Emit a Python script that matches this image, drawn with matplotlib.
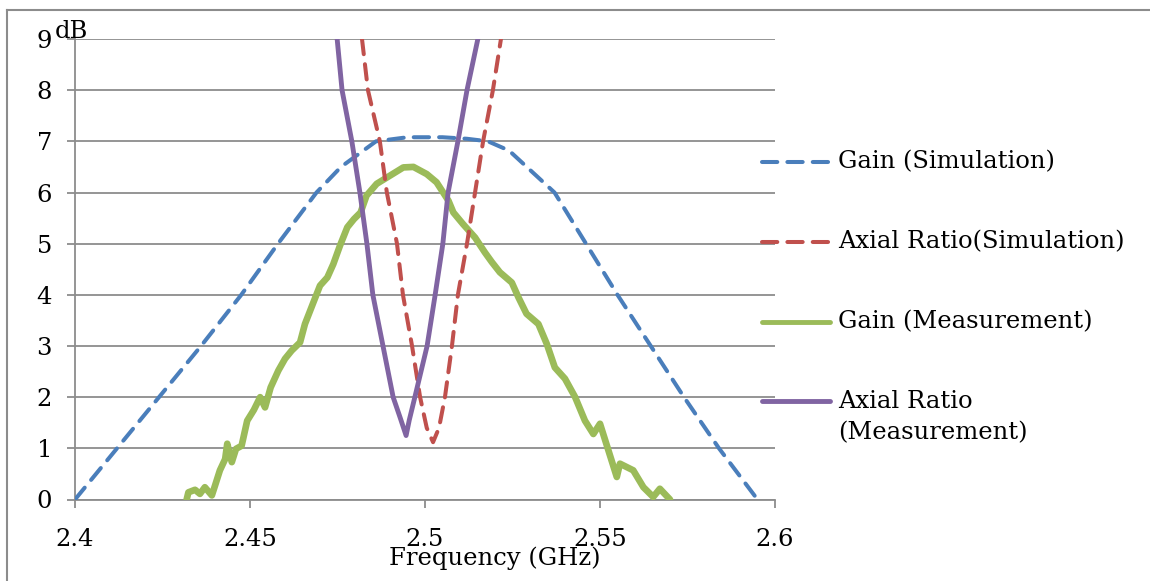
"""Gain and axial ratio vs frequency: simulation vs measurement."""

import matplotlib
matplotlib.use("Agg")
import matplotlib.pyplot as plt
from matplotlib.lines import Line2D

plt.rcParams['font.family'] = ['DejaVu Serif']

# Gain (Simulation)
gs_f = [2.4, 2.412, 2.424, 2.436, 2.4475, 2.458, 2.469, 2.476, 2.486, 2.495,
        2.505, 2.512, 2.518, 2.524, 2.537, 2.546, 2.555, 2.5645, 2.574, 2.584, 2.595]
gs_v = [0, 1, 2, 3, 4, 5, 6, 6.5, 7, 7.08,
        7.08, 7.05, 7.0, 6.82, 6, 5, 4, 3, 2, 1, 0]

# Axial Ratio (Simulation)
ars_f = [2.482, 2.4837, 2.4871, 2.4891, 2.492, 2.4937, 2.4963, 2.4986, 2.5005, 2.5023,
         2.504, 2.5057, 2.5077, 2.5094, 2.512, 2.5143, 2.5166, 2.5194, 2.5217]
ars_v = [9, 8, 7, 6, 5, 4, 3, 2, 1.4, 1.12,
         1.4, 2, 3, 4, 5, 6, 7, 8, 9]

# Gain (Measurement)
gm_f = [2.4319, 2.4324, 2.4343, 2.4357, 2.4371, 2.4391, 2.44, 2.4414, 2.4429, 2.4435,
        2.4448, 2.446, 2.4476, 2.4492, 2.4511, 2.4529, 2.4543, 2.4559, 2.4581, 2.46,
        2.4619, 2.4643, 2.4657, 2.4681, 2.47, 2.4721, 2.4738, 2.4757, 2.4778, 2.4797,
        2.4816, 2.4833, 2.4862, 2.49, 2.4938, 2.4967, 2.5005, 2.5033, 2.5067, 2.5081,
        2.5109, 2.5143, 2.5171, 2.5191, 2.5214, 2.5248, 2.5267, 2.529, 2.5324, 2.5348,
        2.5371, 2.54, 2.5429, 2.5457, 2.5481, 2.55, 2.5524, 2.5548, 2.5557, 2.5595,
        2.5624, 2.5652, 2.5671, 2.57]
gm_v = [0, 0.14, 0.19, 0.11, 0.24, 0.08, 0.27, 0.57, 0.79, 1.09,
        0.73, 0.99, 1.05, 1.54, 1.75, 2.0, 1.80, 2.19, 2.52, 2.75,
        2.91, 3.07, 3.43, 3.85, 4.18, 4.34, 4.6, 4.96, 5.32, 5.48,
        5.61, 5.94, 6.17, 6.33, 6.49, 6.5, 6.36, 6.2, 5.84, 5.61,
        5.38, 5.12, 4.83, 4.64, 4.44, 4.24, 3.95, 3.63, 3.43, 3.04,
        2.58, 2.36, 2.0, 1.54, 1.28, 1.48, 0.96, 0.44, 0.7, 0.57,
        0.24, 0.05, 0.21, 0]

# Axial Ratio (Measurement)
arm_f = [2.4749, 2.4763, 2.4791, 2.4814, 2.4834, 2.4851, 2.488, 2.4909, 2.4929, 2.4946,
         2.4955, 2.4971, 2.5006, 2.5029, 2.5051, 2.5066, 2.5094, 2.512, 2.5151]
arm_v = [9, 8, 7, 6, 5, 4, 3, 2, 1.6, 1.25,
         1.55, 2, 3, 4, 5, 6, 7, 8, 9]

xticks = [2.4, 2.45, 2.5, 2.55, 2.6]
xtick_labels = ["2.4", "2.45", "2.5", "2.55", "2.6"]

blue = '#4a7ebb'
red = '#c0504d'
green = '#9bbb59'
purple = '#8064a2'
gray = '#8c8c8c'
fs = 17.5
dash = (3.8, 2.5)

W, H = 1150, 581
fig = plt.figure(figsize=(W / 100, H / 100), dpi=100)
ax = fig.add_axes([75 / W, 1 - 499.5 / H, 700 / W, 460.5 / H])

ax.plot(gs_f, gs_v, color=blue, lw=2.9, dashes=dash, dash_capstyle='round', zorder=3)
ax.plot(gm_f, gm_v, color=green, lw=4.8, solid_capstyle='round', solid_joinstyle='round', zorder=4)
ax.plot(ars_f, ars_v, color=red, lw=2.9, dashes=dash, dash_capstyle='round', zorder=5)
ax.plot(arm_f, arm_v, color=purple, lw=3.5, solid_capstyle='round', solid_joinstyle='round', zorder=6)

ax.set_xlim(2.4, 2.6)
ax.set_ylim(0, 9)
ax.set_xticks(xticks)
ax.set_xticklabels(xtick_labels)
ax.set_yticks(range(10))
ax.yaxis.grid(True, color=gray, lw=1.3)
ax.set_axisbelow(True)
for s in ['top', 'right']:
    ax.spines[s].set_visible(False)
for s in ['left', 'bottom']:
    ax.spines[s].set_color(gray)
    ax.spines[s].set_linewidth(1.3)
ax.tick_params(axis='both', direction='out', length=5.5, width=1.3, color=gray,
               labelsize=fs, labelcolor='black')
ax.tick_params(axis='x', pad=15)
ax.tick_params(axis='y', pad=11)

fig.text(55 / W, 1 - 32 / H, 'dB', fontsize=fs, va='center', ha='left')
fig.text(495 / W, 1 - 558 / H, 'Frequency (GHz)', fontsize=fs, va='center', ha='center')

# legend
leg = [("Gain (Simulation)", blue, True, 162),
       ("Axial Ratio(Simulation)", red, True, 242),
       ("Gain (Measurement)", green, False, 322),
       ("Axial Ratio", purple, False, 401)]
for label, c, dashed, yy in leg:
    yf = 1 - yy / H
    if dashed:
        ln = Line2D([762 / W, 830 / W], [yf, yf], color=c, lw=2.9, dashes=dash,
                    dash_capstyle='round', transform=fig.transFigure)
    else:
        ln = Line2D([762 / W, 830 / W], [yf, yf], color=c, lw=3.5,
                    solid_capstyle='round', transform=fig.transFigure)
    fig.add_artist(ln)
    fig.text(838 / W, yf, label, fontsize=fs, va='center', ha='left')
fig.text(838 / W, 1 - 433 / H, "(Measurement)", fontsize=fs, va='center', ha='left')

# outer frame (only top and left visible)
fig.add_artist(Line2D([7 / W, 7 / W], [0, 1 - 9.5 / H], color=gray, lw=1.5,
                      transform=fig.transFigure))
fig.add_artist(Line2D([7 / W, 1.01], [1 - 9.5 / H, 1 - 9.5 / H], color=gray, lw=1.5,
                      transform=fig.transFigure))

fig.savefig('out.png', dpi=100)
